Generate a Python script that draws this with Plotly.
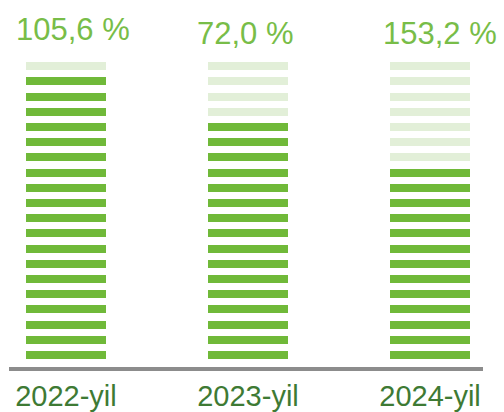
import plotly.graph_objects as go

# ---- data ----
categories = ["2022-yil", "2023-yil", "2024-yil"]
values = [105.6, 72.0, 153.2]
filled_stripes = [19, 16, 13]
total_stripes = 20

GREEN = "#70b939"
LIGHT = "#e2efd8"
LABEL_GREEN = "#78bd48"
AXIS_TEXT = "#3e7a34"

xpos = list(range(len(categories)))
stripe_h = 0.526
bar_w = 0.44

gx, gb, lx, lb = [], [], [], []
for i, n in enumerate(filled_stripes):
    for s in range(total_stripes):
        if s < n:
            gx.append(xpos[i]); gb.append(s)
        else:
            lx.append(xpos[i]); lb.append(s)

fig = go.Figure()
fig.add_trace(go.Bar(x=gx, y=[stripe_h] * len(gx), base=gb, width=bar_w,
                     marker=dict(color=GREEN, line=dict(width=0)),
                     hoverinfo="skip", showlegend=False))
fig.add_trace(go.Bar(x=lx, y=[stripe_h] * len(lx), base=lb, width=bar_w,
                     marker=dict(color=LIGHT, line=dict(width=0)),
                     hoverinfo="skip", showlegend=False))

shifts = [(7, 21), (-3, 17), (10, 17)]
for i, v in enumerate(values):
    txt = f"{v:.1f}".replace(".", ",") + " %"
    fig.add_annotation(x=xpos[i], y=1, yref="paper", text=txt, showarrow=False,
                       xanchor="center", yanchor="middle",
                       xshift=shifts[i][0], yshift=shifts[i][1],
                       font=dict(family="Liberation Sans, Arial", size=31, color=LABEL_GREEN))

fig.update_layout(
    width=504, height=412,
    margin=dict(l=9, r=21, t=50, b=45, autoexpand=False),
    paper_bgcolor="white", plot_bgcolor="white",
    barmode="overlay",
    bargap=0,
    xaxis=dict(range=[-0.313, 2.291], tickmode="array", tickvals=xpos, ticktext=categories,
               showgrid=False, zeroline=False, showline=True, linecolor="#8c8c8c", linewidth=4,
               ticks="", ticklabelstandoff=0, automargin=False,
               tickfont=dict(family="Liberation Sans, Arial", size=29, color=AXIS_TEXT),
               fixedrange=True),
    yaxis=dict(range=[-0.526, 20.33], visible=False, fixedrange=True, automargin=False),
)

fig.write_html("out.html", config={"displayModeBar": False},
               post_script="document.body.style.margin='0';document.body.style.overflow='hidden';")
